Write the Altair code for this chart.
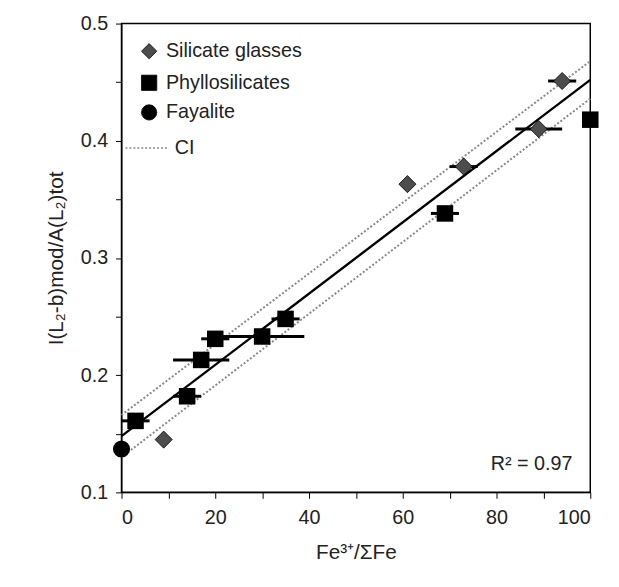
import altair as alt
import pandas as pd

glass_x = [9, 61, 73, 89, 94]
glass_y = [0.145, 0.363, 0.378, 0.410, 0.451]
glass_err = [0, 0, 3, 5, 3]
phyl_x = [3, 14, 17, 20, 30, 35, 69, 100]
phyl_y = [0.161, 0.182, 0.213, 0.231, 0.233, 0.248, 0.338, 0.418]
phyl_err = [3, 3, 6, 3, 9, 3, 3, 0]
fay_x = [0]
fay_y = [0.137]
fit_x = [0, 100]
fit_y = [0.148, 0.452]
ci_up = [0.166, 0.468]
ci_lo = [0.130, 0.436]

glass = pd.DataFrame({"x": glass_x, "y": glass_y, "e": glass_err})
phyl = pd.DataFrame({"x": phyl_x, "y": phyl_y, "e": phyl_err})
fay = pd.DataFrame({"x": fay_x, "y": fay_y})
fit = pd.DataFrame({"x": fit_x, "y": fit_y, "u": ci_up, "l": ci_lo})
errs = pd.concat([glass, phyl])
errs = errs[errs.e > 0].copy()
errs["x0"] = errs.x - errs.e
errs["x1"] = errs.x + errs.e

F = "Liberation Sans"
FS = 20
xs = alt.Scale(domain=[0, 100], nice=False)
ys = alt.Scale(domain=[0.1, 0.5], nice=False)
xax = alt.Axis(values=list(range(0, 101, 10)), labelExpr="datum.value % 20 == 0 ? datum.label : ''",
               title="Fe³⁺/ΣFe", grid=False, tickSize=6, labelPadding=10, titlePadding=14,
               domainColor="black", tickColor="black", labelFontSize=FS, titleFontSize=21,
               labelFont=F, titleFont=F, titleFontWeight="normal", labelColor="#222", titleColor="#222")
yax = alt.Axis(values=[0.1, 0.15, 0.2, 0.25, 0.3, 0.35, 0.4, 0.45, 0.5],
               labelExpr="round(datum.value*100) % 10 == 0 ? format(datum.value, '.1f') : ''",
               title="I(L₂-b)mod/A(L₂)tot", grid=False, tickSize=6, labelPadding=8, titlePadding=14,
               domainColor="black", tickColor="black", labelFontSize=FS, titleFontSize=21,
               labelFont=F, titleFont=F, titleFontWeight="normal", labelColor="#222", titleColor="#222")

X = alt.X("x:Q", scale=xs, axis=xax)
Y = alt.Y("y:Q", scale=ys, axis=yax)

ciu = alt.Chart(fit).mark_line(color="#888", strokeDash=[2, 2], strokeWidth=2).encode(x=X, y=alt.Y("u:Q", scale=ys))
cil = alt.Chart(fit).mark_line(color="#888", strokeDash=[2, 2], strokeWidth=2).encode(x=X, y=alt.Y("l:Q", scale=ys))
fitl = alt.Chart(fit).mark_line(color="black", strokeWidth=2.4).encode(x=X, y=Y)
eb = alt.Chart(errs).mark_rule(color="black", strokeWidth=3).encode(x=alt.X("x0:Q", scale=xs), x2="x1:Q", y=alt.Y("y:Q", scale=ys))
gp = alt.Chart(glass).mark_point(shape="diamond", filled=True, fill="#4d4d4d", stroke="black", strokeWidth=0.8, size=300, opacity=1).encode(x=X, y=Y)
pp = alt.Chart(phyl).mark_point(shape="square", filled=True, color="black", size=280, opacity=1).encode(x=X, y=Y)
fp = alt.Chart(fay).mark_point(shape="circle", filled=True, color="black", size=300, opacity=1).encode(x=X, y=Y)

leg_shapes = pd.DataFrame({"s": ["diamond", "square", "circle"], "py": [28, 60, 90],
                           "lab": ["Silicate glasses", "Phyllosilicates", "Fayalite"]})
lg = alt.Chart(leg_shapes).mark_point(filled=True, opacity=1, size=240, stroke="black", strokeWidth=0.8).encode(
    x=alt.value(28), y=alt.Y("py:Q", scale=None), shape=alt.Shape("s:N", scale=None),
    fill=alt.condition("datum.s == 'diamond'", alt.value("#4d4d4d"), alt.value("black")))
lt = alt.Chart(leg_shapes).mark_text(align="left", baseline="middle", fontSize=FS, font=F, color="#222").encode(
    x=alt.value(45), y=alt.Y("py:Q", scale=None), text="lab:N")
lci = alt.Chart(pd.DataFrame({"a": [0]})).mark_rule(color="#888", strokeDash=[2, 2], strokeWidth=1.5).encode(
    x=alt.value(4), x2=alt.value(48), y=alt.value(126))
lcit = alt.Chart(pd.DataFrame({"t": ["CI"]})).mark_text(align="left", baseline="middle", fontSize=FS, font=F, color="#222").encode(
    x=alt.value(54), y=alt.value(126), text="t:N")
r2 = alt.Chart(pd.DataFrame({"t": ["R² = 0.97"]})).mark_text(align="right", baseline="middle", fontSize=FS, font=F, color="#222").encode(
    x=alt.value(457), y=alt.value(446), text="t:N")

chart = alt.layer(ciu, cil, fitl, eb, gp, pp, fp, lg, lt, lci, lcit, r2).properties(
    width=475, height=475, autosize="none",
    padding={"left": 115, "top": 12, "right": 21, "bottom": 84},
    background="white"
).configure_view(stroke="black", strokeWidth=1.5)

chart.save("out.html", embed_options={"renderer": "svg", "actions": False})
